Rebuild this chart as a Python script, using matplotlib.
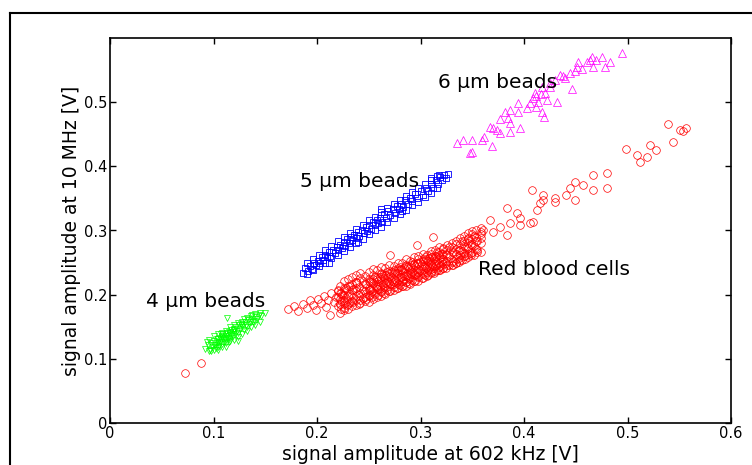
import matplotlib.pyplot as plt
from matplotlib.lines import Line2D

plt.rcParams['font.family'] = ['DejaVu Sans']

# 4 um beads (green)
green_x = [0.092, 0.095, 0.097, 0.098, 0.099, 0.100, 0.101, 0.102, 0.103, 0.103, 0.104, 0.105,
           0.106, 0.106, 0.107, 0.108, 0.108, 0.109, 0.110, 0.111, 0.111, 0.112, 0.113, 0.113,
           0.114, 0.115, 0.116, 0.116, 0.117, 0.118, 0.119, 0.120, 0.120, 0.121, 0.122, 0.123,
           0.124, 0.125, 0.126, 0.127, 0.128, 0.129, 0.130, 0.131, 0.133, 0.134, 0.136, 0.138,
           0.140, 0.142, 0.144, 0.146, 0.150, 0.137, 0.129, 0.098, 0.094, 0.107, 0.115, 0.104,
           0.113,
           0.096, 0.096, 0.100, 0.100, 0.100, 0.104, 0.104, 0.104, 0.108, 0.108, 0.108,
           0.112, 0.112, 0.112, 0.116, 0.116, 0.116, 0.120, 0.120, 0.120, 0.124, 0.124, 0.124,
           0.128, 0.128, 0.128, 0.132, 0.132, 0.132, 0.136, 0.136, 0.136, 0.140, 0.140, 0.140,
           0.145, 0.145]
green_y = [0.116, 0.121, 0.114, 0.125, 0.119, 0.128, 0.122, 0.117, 0.131, 0.124, 0.127, 0.120,
           0.133, 0.126, 0.129, 0.123, 0.136, 0.131, 0.127, 0.138, 0.133, 0.129, 0.140, 0.135,
           0.131, 0.142, 0.137, 0.133, 0.145, 0.139, 0.135, 0.147, 0.142, 0.138, 0.150, 0.144,
           0.140, 0.152, 0.147, 0.155, 0.150, 0.145, 0.157, 0.152, 0.160, 0.155, 0.162, 0.158,
           0.165, 0.162, 0.168, 0.166, 0.171, 0.168, 0.162, 0.112, 0.126, 0.139, 0.126, 0.113,
           0.163,
           0.112, 0.130, 0.114, 0.135, 0.121, 0.118, 0.138, 0.131, 0.119, 0.141, 0.134,
           0.124, 0.144, 0.118, 0.128, 0.149, 0.141, 0.130, 0.152, 0.145, 0.134, 0.156, 0.128,
           0.139, 0.158, 0.152, 0.143, 0.163, 0.149, 0.149, 0.166, 0.157, 0.153, 0.170, 0.159,
           0.158, 0.171]

# 5 um beads (blue)
blue_x = [0.186, 0.188, 0.191, 0.193, 0.195, 0.197, 0.199, 0.201, 0.203, 0.205, 0.206, 0.208,
          0.210, 0.212, 0.213, 0.215, 0.217, 0.219, 0.220, 0.222, 0.224, 0.226, 0.227, 0.229,
          0.231, 0.233, 0.234, 0.236, 0.238, 0.240, 0.241, 0.243, 0.245, 0.247, 0.248, 0.250,
          0.252, 0.254, 0.256, 0.258, 0.259, 0.261, 0.263, 0.265, 0.267, 0.269, 0.271, 0.273,
          0.275, 0.277, 0.279, 0.281, 0.283, 0.285, 0.288, 0.290, 0.292, 0.295, 0.297, 0.300,
          0.302, 0.305, 0.307, 0.310, 0.312, 0.315, 0.317, 0.319, 0.321, 0.323, 0.325, 0.327,
          0.318, 0.310, 0.212, 0.262, 0.240, 0.282,
          0.190, 0.190, 0.196, 0.196, 0.202, 0.202, 0.208, 0.208, 0.214, 0.214, 0.220, 0.220,
          0.226, 0.226, 0.232, 0.232, 0.238, 0.238, 0.244, 0.244, 0.250, 0.250, 0.256, 0.256,
          0.262, 0.262, 0.268, 0.268, 0.274, 0.274, 0.280, 0.280, 0.286, 0.286, 0.292, 0.292,
          0.298, 0.298, 0.304, 0.304, 0.310, 0.310, 0.316, 0.316]
blue_y = [0.234, 0.241, 0.237, 0.245, 0.240, 0.249, 0.246, 0.253, 0.250, 0.259, 0.254, 0.262,
          0.258, 0.266, 0.261, 0.270, 0.265, 0.275, 0.269, 0.277, 0.273, 0.282, 0.276, 0.287,
          0.281, 0.290, 0.285, 0.293, 0.288, 0.298, 0.292, 0.301, 0.296, 0.305, 0.299, 0.309,
          0.303, 0.313, 0.308, 0.317, 0.311, 0.320, 0.314, 0.325, 0.319, 0.330, 0.324, 0.334,
          0.328, 0.338, 0.333, 0.342, 0.337, 0.347, 0.341, 0.351, 0.346, 0.357, 0.350, 0.362,
          0.356, 0.367, 0.362, 0.373, 0.367, 0.378, 0.372, 0.383, 0.378, 0.386, 0.382, 0.388,
          0.387, 0.382, 0.250, 0.333, 0.282, 0.330,
          0.232, 0.250, 0.239, 0.256, 0.244, 0.262, 0.249, 0.270, 0.257, 0.276, 0.262, 0.283,
          0.268, 0.290, 0.275, 0.296, 0.281, 0.303, 0.287, 0.309, 0.294, 0.316, 0.300, 0.321,
          0.306, 0.329, 0.313, 0.335, 0.320, 0.341, 0.326, 0.347, 0.332, 0.354, 0.339, 0.360,
          0.345, 0.366, 0.352, 0.372, 0.359, 0.379, 0.366, 0.385]

# 6 um beads (magenta)
mag_x = [0.335, 0.341, 0.350, 0.350, 0.361, 0.369, 0.370, 0.374, 0.386, 0.377, 0.385, 0.386,
         0.394, 0.394, 0.406, 0.409, 0.412, 0.417, 0.419, 0.414, 0.416, 0.422, 0.420, 0.432,
         0.425, 0.435, 0.440, 0.446, 0.444, 0.449, 0.452, 0.456, 0.461, 0.466, 0.467, 0.475,
         0.478, 0.483, 0.495, 0.470, 0.412, 0.417, 0.411, 0.403, 0.382, 0.386, 0.377, 0.359,
         0.396, 0.367, 0.348, 0.425, 0.430, 0.438, 0.451, 0.464]
mag_y = [0.437, 0.441, 0.441, 0.423, 0.446, 0.432, 0.460, 0.457, 0.454, 0.473, 0.476, 0.488,
         0.499, 0.484, 0.499, 0.507, 0.493, 0.485, 0.477, 0.501, 0.512, 0.504, 0.515, 0.501,
         0.524, 0.543, 0.538, 0.520, 0.546, 0.548, 0.562, 0.551, 0.562, 0.571, 0.555, 0.571,
         0.555, 0.562, 0.577, 0.565, 0.509, 0.523, 0.515, 0.491, 0.485, 0.468, 0.452, 0.441,
         0.460, 0.462, 0.421, 0.530, 0.535, 0.540, 0.555, 0.566]

# red blood cells
red_x = [0.072, 0.088,
         0.172, 0.178, 0.182, 0.186, 0.190, 0.193, 0.196, 0.199, 0.201, 0.204, 0.207, 0.209,
         0.211, 0.214, 0.216, 0.218, 0.220, 0.222, 0.224, 0.226, 0.228, 0.213, 0.239,
         0.220, 0.220, 0.220, 0.223, 0.223, 0.223, 0.226, 0.226, 0.226, 0.229, 0.229, 0.229,
         0.232, 0.232, 0.232, 0.235, 0.235, 0.235, 0.238, 0.238, 0.238, 0.241, 0.241, 0.241,
         0.244, 0.244, 0.244, 0.247, 0.247, 0.247, 0.250, 0.250, 0.250, 0.253, 0.253, 0.253,
         0.256, 0.256, 0.256, 0.259, 0.259, 0.259, 0.262, 0.262, 0.262, 0.265, 0.265, 0.265,
         0.268, 0.268, 0.268, 0.271, 0.271, 0.271, 0.274, 0.274, 0.274, 0.277, 0.277, 0.277,
         0.280, 0.280, 0.280, 0.283, 0.283, 0.283, 0.286, 0.286, 0.286, 0.289, 0.289, 0.289,
         0.292, 0.292, 0.292, 0.295, 0.295, 0.295, 0.298, 0.298, 0.298, 0.301, 0.301, 0.301,
         0.304, 0.304, 0.304, 0.307, 0.307, 0.307, 0.310, 0.310, 0.310, 0.313, 0.313, 0.313,
         0.316, 0.316, 0.316, 0.319, 0.319, 0.319, 0.322, 0.322, 0.322, 0.325, 0.325, 0.325,
         0.328, 0.328, 0.328, 0.331, 0.331, 0.331, 0.334, 0.334, 0.334, 0.337, 0.337, 0.337,
         0.340, 0.340, 0.340, 0.343, 0.343, 0.343, 0.346, 0.346, 0.346, 0.349, 0.349, 0.349,
         0.352, 0.352, 0.352, 0.355, 0.355, 0.355, 0.358, 0.358, 0.358,
         0.2515, 0.2515, 0.2545, 0.2545, 0.2575, 0.2575, 0.2605, 0.2605, 0.2635, 0.2635,
         0.2665, 0.2665, 0.2695, 0.2695, 0.2725, 0.2725, 0.2755, 0.2755, 0.2785, 0.2785,
         0.2815, 0.2815, 0.2845, 0.2845, 0.2875, 0.2875, 0.2905, 0.2905, 0.2935, 0.2935,
         0.2965, 0.2965, 0.2995, 0.2995, 0.3025, 0.3025, 0.3055, 0.3055, 0.3085, 0.3085,
         0.3115, 0.3115, 0.3145, 0.3145, 0.3175, 0.3175, 0.3205, 0.3205,
         0.271, 0.297, 0.312,
         0.222, 0.222, 0.222, 0.222, 0.222, 0.226, 0.226, 0.226, 0.226, 0.226,
         0.230, 0.230, 0.230, 0.230, 0.230, 0.234, 0.234, 0.234, 0.234, 0.234,
         0.238, 0.238, 0.238, 0.238, 0.238, 0.242, 0.242, 0.242, 0.242, 0.242,
         0.246, 0.246, 0.246, 0.246, 0.246, 0.250, 0.250, 0.250, 0.250, 0.250,
         0.254, 0.254, 0.254, 0.254, 0.254, 0.258, 0.258, 0.258, 0.258, 0.258,
         0.262, 0.262, 0.262, 0.262, 0.262, 0.266, 0.266, 0.266, 0.266, 0.266,
         0.270, 0.270, 0.270, 0.270, 0.270, 0.274, 0.274, 0.274, 0.274, 0.274,
         0.278, 0.278, 0.278, 0.278, 0.278, 0.282, 0.282, 0.282, 0.282, 0.282,
         0.286, 0.286, 0.286, 0.286, 0.286, 0.290, 0.290, 0.290, 0.290, 0.290,
         0.294, 0.294, 0.294, 0.294, 0.294, 0.298, 0.298, 0.298, 0.298, 0.298,
         0.302, 0.302, 0.302, 0.302, 0.302, 0.306, 0.306, 0.306, 0.306, 0.306,
         0.310, 0.310, 0.310, 0.310, 0.310, 0.314, 0.314, 0.314, 0.314, 0.314,
         0.318, 0.318, 0.318, 0.318, 0.318, 0.322, 0.322, 0.322, 0.322, 0.322,
         0.326, 0.326, 0.326, 0.326, 0.326, 0.330, 0.330, 0.330, 0.330, 0.330,
         0.334, 0.334, 0.334, 0.334, 0.334, 0.338, 0.338, 0.338, 0.338, 0.338,
         0.342, 0.342, 0.342, 0.342, 0.342, 0.346, 0.346, 0.346, 0.346, 0.346,
         0.350, 0.350, 0.350, 0.350, 0.350, 0.354, 0.354, 0.354, 0.354,
         0.358, 0.358, 0.358,
         0.360, 0.367, 0.370, 0.377, 0.384, 0.384, 0.386, 0.393, 0.396, 0.396, 0.406, 0.408,
         0.409, 0.413, 0.415, 0.418, 0.418, 0.430, 0.430, 0.441, 0.444, 0.449, 0.449, 0.457,
         0.467, 0.467, 0.480, 0.480, 0.499, 0.509, 0.512, 0.519, 0.522, 0.528, 0.539, 0.544,
         0.551, 0.557, 0.554]
red_y = [0.078, 0.093,
         0.178, 0.182, 0.175, 0.186, 0.180, 0.191, 0.184, 0.176, 0.193, 0.187, 0.198, 0.181,
         0.192, 0.202, 0.188, 0.196, 0.207, 0.185, 0.199, 0.192, 0.210, 0.168, 0.218,
         0.183, 0.197, 0.206, 0.190, 0.202, 0.178, 0.186, 0.199, 0.211, 0.193, 0.207, 0.184,
         0.188, 0.201, 0.214, 0.196, 0.209, 0.189, 0.192, 0.206, 0.219, 0.199, 0.212, 0.186,
         0.195, 0.208, 0.222, 0.203, 0.216, 0.193, 0.198, 0.211, 0.225, 0.206, 0.219, 0.196,
         0.201, 0.215, 0.228, 0.209, 0.222, 0.199, 0.204, 0.218, 0.232, 0.212, 0.226, 0.203,
         0.208, 0.221, 0.236, 0.216, 0.229, 0.206, 0.212, 0.225, 0.239, 0.219, 0.233, 0.210,
         0.215, 0.228, 0.243, 0.222, 0.236, 0.214, 0.219, 0.232, 0.247, 0.226, 0.240, 0.218,
         0.223, 0.236, 0.251, 0.230, 0.244, 0.222, 0.227, 0.240, 0.255, 0.234, 0.248, 0.226,
         0.231, 0.244, 0.259, 0.238, 0.252, 0.230, 0.235, 0.248, 0.263, 0.242, 0.255, 0.234,
         0.238, 0.252, 0.267, 0.245, 0.259, 0.238, 0.242, 0.256, 0.271, 0.249, 0.263, 0.242,
         0.246, 0.260, 0.275, 0.253, 0.267, 0.247, 0.250, 0.264, 0.279, 0.257, 0.270, 0.251,
         0.254, 0.268, 0.283, 0.261, 0.274, 0.256, 0.258, 0.272, 0.287, 0.265, 0.279, 0.262,
         0.262, 0.276, 0.291, 0.269, 0.283, 0.266, 0.266, 0.280, 0.295,
         0.207, 0.220, 0.210, 0.224, 0.212, 0.225, 0.214, 0.227, 0.216, 0.229,
         0.218, 0.231, 0.219, 0.233, 0.221, 0.235, 0.223, 0.237, 0.225, 0.238,
         0.227, 0.240, 0.229, 0.242, 0.230, 0.244, 0.232, 0.246, 0.234, 0.248,
         0.236, 0.250, 0.238, 0.251, 0.240, 0.253, 0.241, 0.255, 0.243, 0.257,
         0.245, 0.259, 0.247, 0.261, 0.249, 0.262, 0.251, 0.264,
         0.262, 0.278, 0.290,
         0.172, 0.185, 0.203, 0.214, 0.193, 0.180, 0.208, 0.190, 0.221, 0.176,
         0.186, 0.213, 0.178, 0.198, 0.224, 0.190, 0.182, 0.216, 0.207, 0.227,
         0.184, 0.198, 0.219, 0.230, 0.211, 0.192, 0.226, 0.202, 0.187, 0.233,
         0.196, 0.217, 0.190, 0.229, 0.205, 0.199, 0.188, 0.222, 0.236, 0.207,
         0.202, 0.231, 0.194, 0.218, 0.240, 0.196, 0.209, 0.227, 0.238, 0.213,
         0.205, 0.233, 0.198, 0.224, 0.243, 0.210, 0.201, 0.230, 0.241, 0.218,
         0.213, 0.237, 0.205, 0.228, 0.247, 0.208, 0.220, 0.234, 0.245, 0.216,
         0.217, 0.241, 0.211, 0.233, 0.250, 0.221, 0.214, 0.238, 0.249, 0.228,
         0.219, 0.244, 0.229, 0.255, 0.213, 0.226, 0.217, 0.243, 0.252, 0.233,
         0.222, 0.248, 0.231, 0.258, 0.239, 0.229, 0.222, 0.250, 0.236, 0.261,
         0.232, 0.255, 0.226, 0.244, 0.264, 0.236, 0.252, 0.229, 0.262, 0.244,
         0.240, 0.258, 0.233, 0.268, 0.249, 0.237, 0.261, 0.244, 0.270, 0.253,
         0.243, 0.266, 0.238, 0.257, 0.274, 0.248, 0.263, 0.241, 0.272, 0.256,
         0.246, 0.269, 0.253, 0.278, 0.262, 0.251, 0.274, 0.247, 0.266, 0.281,
         0.256, 0.271, 0.250, 0.283, 0.263, 0.254, 0.279, 0.262, 0.288, 0.270,
         0.260, 0.276, 0.284, 0.265, 0.292, 0.263, 0.281, 0.289, 0.272, 0.296,
         0.267, 0.286, 0.277, 0.294, 0.299, 0.271, 0.290, 0.283, 0.300,
         0.288, 0.297, 0.304,
         0.301, 0.317, 0.297, 0.306, 0.335, 0.293, 0.312, 0.328, 0.320, 0.309, 0.312, 0.363,
         0.314, 0.332, 0.343, 0.348, 0.356, 0.345, 0.351, 0.356, 0.367, 0.348, 0.376, 0.371,
         0.363, 0.387, 0.367, 0.390, 0.427, 0.418, 0.407, 0.415, 0.434, 0.426, 0.466, 0.438,
         0.457, 0.460, 0.455]

labels = ['4 \u03bcm beads', '5 \u03bcm beads', '6 \u03bcm beads', 'Red blood cells']
label_x = [0.035, 0.184, 0.317, 0.356]
label_y = [0.190, 0.376, 0.530, 0.240]

fig = plt.figure(figsize=(7.52, 4.65), dpi=100)
ax = fig.add_axes([110 / 752, 1 - 423 / 465, 621 / 752, 385 / 465])

ax.plot(red_x, red_y, 'o', color='red', mfc='none', ms=5.5, mew=0.5)
ax.plot(green_x, green_y, 'v', color='lime', mfc='none', ms=4.5, mew=0.5)
ax.plot(blue_x, blue_y, 's', color='blue', mfc='none', ms=4.5, mew=0.6)
ax.plot(mag_x, mag_y, '^', color='magenta', mfc='none', ms=5.5, mew=0.5)

for t, x, y in zip(labels, label_x, label_y):
    ax.text(x, y, t, fontsize=14.5, va='center', ha='left')

ax.set_xlim(0, 0.6)
ax.set_ylim(0, 0.6)
ax.set_xticks([0, 0.1, 0.2, 0.3, 0.4, 0.5, 0.6])
ax.set_xticklabels(['0', '0.1', '0.2', '0.3', '0.4', '0.5', '0.6'])
ax.set_yticks([0, 0.1, 0.2, 0.3, 0.4, 0.5])
ax.set_yticklabels(['0', '0.1', '0.2', '0.3', '0.4', '0.5'])
ax.tick_params(direction='in', top=True, right=True, length=4, width=1, labelsize=10.5, pad=2)
for s in ax.spines.values():
    s.set_linewidth(1.2)

ax.set_xlabel('signal amplitude at 602 kHz [V]', fontsize=13.5)
ax.xaxis.set_label_coords(0.516, -0.058, transform=ax.transAxes)
ax.xaxis.label.set_va('top')
ax.set_ylabel('signal amplitude at 10 MHz [V]', fontsize=13.5, labelpad=2)

# outer frame (cut at right and bottom)
fig.add_artist(Line2D([10 / 752, 1.0], [1 - 13 / 465, 1 - 13 / 465], color='black', lw=1.5))
fig.add_artist(Line2D([10 / 752, 10 / 752], [0.0, 1 - 13 / 465], color='black', lw=1.5))

plt.savefig('out.png', dpi=100)
